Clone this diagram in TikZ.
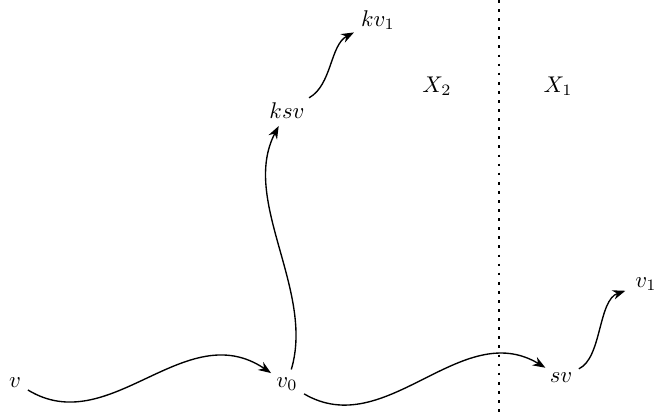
\documentclass[tikz,border=0pt]{standalone}
\usetikzlibrary{arrows.meta,shapes.geometric}
\begin{document}
\begin{tikzpicture}[x=0.44pt,y=-0.44pt,
  lbl/.style={ellipse,inner xsep=2.5pt,inner ysep=1.5pt,anchor=base},
  arr/.style={-{Stealth[length=5.6pt,width=4.2pt]},line width=0.6pt},
  sep/.style={line width=0.8pt,dash pattern=on 1.2pt off 2.8pt}]
\useasboundingbox (0,0) rectangle (656,417);
\node[lbl] (v)   at (15,387)  {$v$};
\node[lbl] (v0)  at (287,387) {$v_0$};
\node[lbl] (sv)  at (561,382) {$sv$};
\node[lbl] (v1)  at (646,287) {$v_1$};
\node[lbl] (ksv) at (287,118) {$ksv$};
\node[lbl] (kv1) at (378,26)  {$kv_1$};
\node[anchor=base] (X2) at (437,92) {$X_2$};
\node[anchor=base] (X1) at (558,92) {$X_1$};
\coordinate (top) at (499,0);
\coordinate (bot) at (499,415);
\draw[sep] (top) -- (bot);
\draw[arr] (v) .. controls (110,440) and (185,315) .. (v0);
\draw[arr] (v0) .. controls (386,442) and (461,317) .. (sv);
\draw[arr] (v0) .. controls (315,290) and (240,200) .. (ksv);
\draw[arr] (ksv) .. controls (332,85) and (330,45) .. (kv1);
\draw[arr] (sv) .. controls (602,358) and (598,300) .. (v1);
\end{tikzpicture}
\end{document}
